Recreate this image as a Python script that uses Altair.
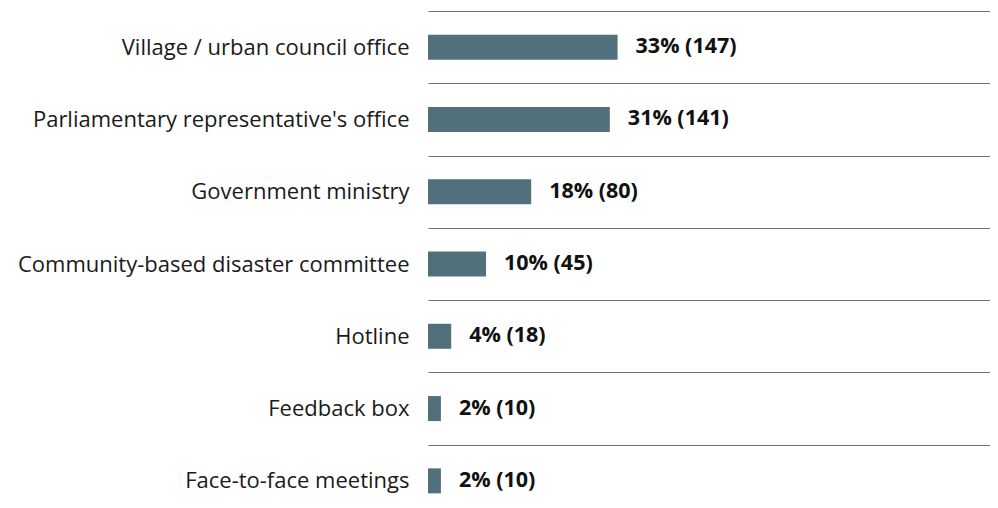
import altair as alt
import pandas as pd

categories = [
    "Village / urban council office",
    "Parliamentary representative's office",
    "Government ministry",
    "Community-based disaster committee",
    "Hotline",
    "Feedback box",
    "Face-to-face meetings",
]
percents = [33, 31, 18, 10, 4, 2, 2]
counts = [147, 141, 80, 45, 18, 10, 10]

df = pd.DataFrame({
    "category": categories,
    "count": counts,
    "label": [f"{p}% ({c})" for p, c in zip(percents, counts)],
})

FONT = "Open Sans"

y = alt.Y(
    "category:N",
    sort=categories,
    scale=alt.Scale(paddingInner=0, paddingOuter=0),
    axis=alt.Axis(
        title=None,
        domain=False,
        ticks=False,
        grid=True,
        tickBand="extent",
        gridColor="#707070",
        gridWidth=1,
        labelFont=FONT,
        labelFontSize=22,
        labelColor="#1a1a1a",
        labelPadding=19,
        labelLimit=600,
    ),
)
x = alt.X(
    "count:Q",
    scale=alt.Scale(domain=[0, 442], nice=False),
    axis=None,
)

bars = alt.Chart(df).mark_bar(size=25, color="#526f7c").encode(x=x, y=y)
texts = alt.Chart(df).mark_text(
    align="left", baseline="middle", dx=18, font=FONT, fontSize=21.5,
    fontWeight="bold", color="#111111",
).encode(x=x, y=alt.Y("category:N", sort=categories), text="label:N")

chart = (
    alt.layer(bars, texts)
    .properties(
        width=570,
        height=506,
        autosize=alt.AutoSizeParams(type="none"),
        padding={"left": 420, "top": 3, "right": -8, "bottom": -17},
    )
    .configure_view(stroke=None)
)

chart.save("out.html", embed_options={"renderer": "svg", "actions": False})
